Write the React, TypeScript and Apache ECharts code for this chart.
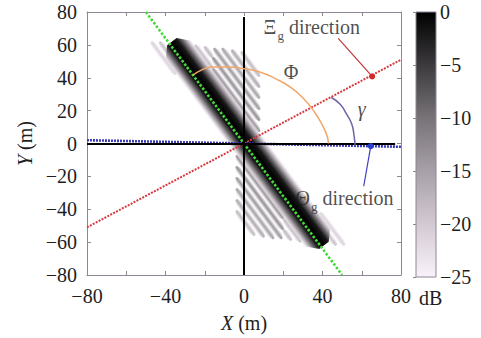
import React, { useEffect, useRef } from 'react';
import * as echarts from 'echarts';

// ---- axis ranges ----
const xRange = [-80, 80];
const yRange = [-80, 80];
const colorbarRange = [-25, 0];
const colorbarUnit = 'dB';

// ---- colormap (dB level -> colour) ----
const cmapLevels = [0, -5, -10, -15, -20, -25];
const cmapColors = ['#000000', '#3c3a3c', '#777377', '#a7a0a8', '#d3c9d3', '#f9f2f9'];

// ---- Θg direction: x changes by this much per metre of y ----
const lobeDxDy = -0.625;

// stripes: [offset x at y=0 (m), y from (m), y to (m), peak level (dB)]
const mainLobe = [[2, 62, -62, 0]];
const upperSidelobes = [
  [8.3, 0.5, 38.9, -12], [8.3, 38.9, 60, -17],
  [12.5, 7.2, 45.6, -13], [12.5, 45.6, 60, -18],
  [16.7, 13.9, 52.3, -13], [16.7, 52.3, 59, -18],
  [20.9, 20.6, 58, -14],
  [25.1, 27.4, 58, -15],
  [29.3, 34.1, 57, -16],
  [33.5, 40.8, 56, -18],
  [-4.3, 36, 62, -19],
  [-8.5, 42, 62, -21],
];
const lowerSidelobes = [
  [-4.3, -0.5, -38.9, -12], [-4.3, -38.9, -60, -17],
  [-8.5, -7.2, -45.6, -13], [-8.5, -45.6, -60, -18],
  [-12.7, -13.9, -52.3, -13], [-12.7, -52.3, -59, -18],
  [-16.9, -20.6, -58, -14],
  [-21.1, -27.4, -58, -15],
  [-25.3, -34.1, -57, -16],
  [-29.5, -40.8, -56, -18],
  [8.3, -36, -62, -19],
  [12.5, -42, -62, -21],
];

// ---- direction lines (endpoints, m) ----
const thetaLineX = [-50, 50];
const thetaLineY = [80, -80];
const xiLineX = [-80, 80];
const xiLineY = [-51, 51];
const blueLineX = [-80, 80];
const blueLineY = [2, -2];

// ---- angle arcs ----
const phiArcX = [-26, -22, -16, -8, 0, 8, 16, 24, 31, 36, 40, 42.5, 43];
const phiArcY = [41.5, 44.5, 46.5, 46.5, 45.5, 43.5, 39.5, 34, 26.5, 19, 11, 4, 0];
const gammaArcX = [44.5, 49, 52.3, 54.9, 56.1, 56.6];
const gammaArcY = [28, 23.9, 17.8, 11.8, 4.7, -1.3];

// ---- pointers (label end -> marker) ----
const xiPointerX = [48, 65.3];
const xiPointerY = [64, 40.8];
const thetaPointerX = [61, 64.6];
const thetaPointerY = [-26, -1.6];

// ---- annotations ----
const annotationText = ['{b|Ξ}{s|g}{b| direction}', '{b|Φ}', '{i|γ}', '{b|Θ}{s|g}{b| direction}'];
const annotationX = [9.7, 24, 60, 26];
const annotationY = [70, 43, 21, -33.8];
const annotationAnchor = ['right', 'inside', 'inside', 'right'];

const serif = "'Liberation Serif', 'Times New Roman', serif";
const frameColor = '#8e8694';
const textColor = '#1e1e1e';
const fmt = (v: number) => (v < 0 ? '\u2212' + Math.abs(v) : String(v));

function levelColor(level: number, alpha = 1) {
  const t = Math.min(1, Math.max(0, -level / 25));
  const c = echarts.color.lerp(t, cmapColors) as string;
  return echarts.color.modifyAlpha(c, alpha) as string;
}

function stripeRenderer(halfW: number, taper: number, core: boolean) {
  return (params: any, api: any) => {
    const off = api.value(0), ya = api.value(1), yb = api.value(2), lev = api.value(3);
    const p1 = api.coord([off + ya * lobeDxDy, ya]);
    const p2 = api.coord([off + yb * lobeDxDy, yb]);
    const dx = p2[0] - p1[0], dy = p2[1] - p1[1];
    const len = Math.hypot(dx, dy) || 1;
    const ux = dx / len, uy = dy / len;
    const nx = -uy, ny = ux;
    const t = Math.min(taper, len / 2);
    const pts = [
      [p1[0] + nx * halfW * 0.35, p1[1] + ny * halfW * 0.35],
      [p1[0] + ux * t + nx * halfW, p1[1] + uy * t + ny * halfW],
      [p2[0] - ux * t + nx * halfW, p2[1] - uy * t + ny * halfW],
      [p2[0] + nx * halfW * 0.35, p2[1] + ny * halfW * 0.35],
      [p2[0] - nx * halfW * 0.35, p2[1] - ny * halfW * 0.35],
      [p2[0] - ux * t - nx * halfW, p2[1] - uy * t - ny * halfW],
      [p1[0] + ux * t - nx * halfW, p1[1] + uy * t - ny * halfW],
      [p1[0] - nx * halfW * 0.35, p1[1] - ny * halfW * 0.35],
    ];
    const mx = (p1[0] + p2[0]) / 2, my = (p1[1] + p2[1]) / 2;
    const stops = core
      ? [
          { offset: 0, color: levelColor(-25, 0) },
          { offset: 0.1, color: levelColor(-19, 0.9) },
          { offset: 0.22, color: levelColor(-9) },
          { offset: 0.34, color: levelColor(-2) },
          { offset: 0.5, color: levelColor(lev) },
          { offset: 0.66, color: levelColor(-2) },
          { offset: 0.78, color: levelColor(-9) },
          { offset: 0.9, color: levelColor(-19, 0.9) },
          { offset: 1, color: levelColor(-25, 0) },
        ]
      : [
          { offset: 0, color: levelColor(lev, 0) },
          { offset: 0.5, color: levelColor(lev) },
          { offset: 1, color: levelColor(lev, 0) },
        ];
    return {
      type: 'polygon',
      shape: { points: pts },
      style: {
        fill: new echarts.graphic.LinearGradient(
          mx - nx * halfW, my - ny * halfW, mx + nx * halfW, my + ny * halfW, stops, true
        ),
      },
    };
  };
}

const zip = (xs: number[], ys: number[]) => xs.map((x, i) => [x, ys[i]]);

export default function App() {
  const ref = useRef<HTMLDivElement>(null);
  useEffect(() => {
    if (!ref.current) return;
    const chart = echarts.init(ref.current, undefined, { renderer: 'svg' });
    const labelStyle = { fontFamily: serif, fontSize: 20, color: textColor };
    const nameStyle = {
      fontFamily: serif,
      fontSize: 20,
      color: textColor,
      rich: { i: { fontFamily: serif, fontSize: 20, fontStyle: 'italic', color: textColor } },
    };
    const richAnn = {
      b: { fontFamily: serif, fontSize: 20, color: textColor, lineHeight: 22, verticalAlign: 'top' },
      s: { fontFamily: serif, fontSize: 13, color: textColor, lineHeight: 13, padding: [12, 0, 0, 1], verticalAlign: 'top' },
      i: { fontFamily: serif, fontSize: 20, fontStyle: 'italic', color: textColor },
    };
    const dotted = (name: string, xs: number[], ys: number[], color: string, width: number, dash: number[]) => ({
      type: 'line',
      name,
      data: zip(xs, ys),
      symbol: 'none',
      silent: true,
      lineStyle: { type: dash, color, width },
      z: 4,
    });
    chart.setOption({
      animation: false,
      grid: [
        { left: 87, top: 12, width: 314, height: 265 },
        { left: 416, top: 12, width: 20, height: 265 },
      ],
      graphic: [
        {
          type: 'text', left: 419, top: 288, silent: true,
          style: { text: colorbarUnit, fontFamily: serif, fontSize: 20, fill: textColor },
        },
      ],
      xAxis: [
        {
          gridIndex: 0, type: 'value', min: xRange[0], max: xRange[1], interval: 20, position: 'bottom',
          axisLine: { show: true, onZero: false, lineStyle: { color: frameColor, width: 1 } },
          axisTick: { show: true, inside: true, length: 4, lineStyle: { color: frameColor } },
          axisLabel: { ...labelStyle, margin: 11, formatter: (v: number) => (v % 40 === 0 ? fmt(v) : '') },
          splitLine: { show: false },
          name: '{i|X} (m)', nameLocation: 'middle', nameGap: 38, nameTextStyle: nameStyle,
        },
        {
          gridIndex: 0, type: 'value', min: xRange[0], max: xRange[1], interval: 20, position: 'top',
          axisLine: { show: true, onZero: false, lineStyle: { color: frameColor, width: 1 } },
          axisTick: { show: true, inside: true, length: 4, lineStyle: { color: frameColor } },
          axisLabel: { show: false }, splitLine: { show: false },
        },
        { gridIndex: 1, type: 'value', min: 0, max: 1, show: false },
      ],
      yAxis: [
        {
          gridIndex: 0, type: 'value', min: yRange[0], max: yRange[1], interval: 20, position: 'left',
          axisLine: { show: true, onZero: false, lineStyle: { color: frameColor, width: 1 } },
          axisTick: { show: true, inside: true, length: 4, lineStyle: { color: frameColor } },
          axisLabel: { ...labelStyle, margin: 10, formatter: fmt },
          splitLine: { show: false },
          name: '{i|Y} (m)', nameLocation: 'middle', nameGap: 52, nameTextStyle: nameStyle,
        },
        {
          gridIndex: 0, type: 'value', min: yRange[0], max: yRange[1], interval: 20, position: 'right',
          axisLine: { show: true, onZero: false, lineStyle: { color: frameColor, width: 1 } },
          axisTick: { show: true, inside: true, length: 4, lineStyle: { color: frameColor } },
          axisLabel: { show: false }, splitLine: { show: false },
        },
        {
          gridIndex: 1, type: 'value', min: colorbarRange[0], max: colorbarRange[1], interval: 5, position: 'right',
          axisLine: { show: false },
          axisTick: { show: true, inside: true, length: 3, lineStyle: { color: frameColor } },
          axisLabel: { ...labelStyle, margin: 4, formatter: fmt },
          splitLine: { show: false },
        },
      ],
      series: [
        {
          type: 'custom', name: 'sidelobes', xAxisIndex: 0, yAxisIndex: 0, silent: true, z: 1,
          renderItem: stripeRenderer(3.3, 5, false),
          data: [...upperSidelobes, ...lowerSidelobes],
        },
        {
          type: 'custom', name: 'main lobe', xAxisIndex: 0, yAxisIndex: 0, silent: true, z: 2,
          renderItem: stripeRenderer(17, 12, true),
          data: mainLobe,
        },
        {
          type: 'line', name: 'axes', data: [], silent: true, z: 3,
          markLine: {
            silent: true, symbol: ['none', 'arrow'], symbolSize: [0, 11],
            label: { show: false },
            lineStyle: { color: '#000', width: 2, type: 'solid' },
            data: [
              [{ coord: [-80, 0] }, { coord: [77, 0] }],
              [{ coord: [0, -80] }, { coord: [0, 77] }],
            ],
          },
        },
        dotted('Θg direction', thetaLineX, thetaLineY, '#45d93a', 2.6, [2.5, 1.8]),
        dotted('Ξg direction', xiLineX, xiLineY, '#d63a3e', 2, [2, 1.3]),
        dotted('blue', blueLineX, blueLineY, '#3a3ab4', 2.6, [2, 1]),
        {
          type: 'line', name: 'Φ arc', data: zip(phiArcX, phiArcY), smooth: true, symbol: 'none', silent: true,
          lineStyle: { color: '#f2a76a', width: 1.5 }, z: 5,
        },
        {
          type: 'line', name: 'γ arc', data: zip(gammaArcX, gammaArcY), smooth: true, symbol: 'none', silent: true,
          lineStyle: { color: '#6a66a6', width: 1.5 }, z: 5,
        },
        {
          type: 'line', name: 'Ξ pointer', silent: true, z: 6,
          data: [
            { value: [xiPointerX[0], xiPointerY[0]], symbol: 'none' },
            { value: [xiPointerX[1], xiPointerY[1]], symbol: 'circle', symbolSize: 6 },
          ],
          showAllSymbol: true,
          itemStyle: { color: '#d62828' },
          lineStyle: { color: '#c0363a', width: 1.2 },
        },
        {
          type: 'line', name: 'Θ pointer', silent: true, z: 6,
          data: [
            { value: [thetaPointerX[0], thetaPointerY[0]], symbol: 'none' },
            { value: [thetaPointerX[1], thetaPointerY[1]], symbol: 'circle', symbolSize: 6 },
          ],
          showAllSymbol: true,
          itemStyle: { color: '#2a3fcf' },
          lineStyle: { color: '#3b3fc0', width: 1.2 },
        },
        {
          type: 'scatter', name: 'annotations', silent: true, z: 7, symbolSize: 1,
          itemStyle: { color: 'rgba(0,0,0,0)' },
          data: annotationText.map((t, i) => ({
            value: [annotationX[i], annotationY[i]],
            label: { show: true, position: annotationAnchor[i], distance: 0, formatter: t, rich: richAnn },
          })),
        },
        {
          type: 'custom', name: 'colorbar', xAxisIndex: 2, yAxisIndex: 2, silent: true,
          data: [[0, colorbarRange[1], 1, colorbarRange[0]]],
          renderItem: (params: any, api: any) => {
            const a = api.coord([api.value(0), api.value(1)]);
            const b = api.coord([api.value(2), api.value(3)]);
            return {
              type: 'rect',
              shape: { x: a[0], y: a[1], width: b[0] - a[0], height: b[1] - a[1] },
              style: {
                fill: new echarts.graphic.LinearGradient(0, 0, 0, 1,
                  cmapLevels.map((l, i) => ({ offset: -l / 25, color: cmapColors[i] }))),
                stroke: frameColor, lineWidth: 1,
              },
            };
          },
        },
      ],
    });
    return () => chart.dispose();
  }, []);
  return <div ref={ref} style={{ position: 'absolute', left: 0, top: 0, width: 481, height: 338 }} />;
}
